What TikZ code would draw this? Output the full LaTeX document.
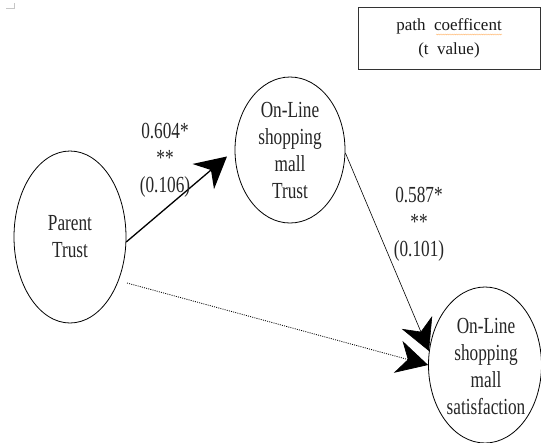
\documentclass[tikz,border=0pt]{standalone}
\usepackage{fontspec}
\setmainfont{Liberation Serif}
\newfontfamily\lblfont[FakeStretch=0.75]{Liberation Serif}
\usetikzlibrary{shapes.geometric,arrows.meta,decorations.pathmorphing}
\begin{document}
\begin{tikzpicture}[x=1pt,y=-1pt,
  ell/.style={ellipse, draw, line width=0.8pt, inner sep=0pt},
  lbl/.style={align=center, inner sep=0pt, text=black!85, font=\lblfont\fontsize{23}{27}\selectfont},
  bigtip/.style={-{Stealth[length=31pt,width=33pt,inset=10pt]}},
  legendbox/.style={draw=black!80, line width=1pt, minimum width=182pt, minimum height=62pt, align=center, inner sep=0pt, text=black!90, font=\fontsize{17}{24}\selectfont},
]
\useasboundingbox (0,0) rectangle (541,442);
\fill[white] (0,0) rectangle (541,442);
% corner mark
\draw[gray!45, line width=0.6pt] (6,8) -- (14,8) -- (14,3);
% legend
\node[legendbox] (legend) at (449,38) {path\ \ coefficent\\(t\ \ value)};
\draw[orange!55, line width=0.35pt, decorate, decoration={snake, amplitude=0.5pt, segment length=1.8pt}] (436,34.5) -- (502,34.5);
% ellipses
\node[ell, minimum width=112pt, minimum height=172pt] (parent) at (70,237) {};
\node[lbl] (parentt) at (parent.center) {Parent\\Trust};
\node[ell, minimum width=110pt, minimum height=146pt] (online) at (290,150) {};
\node[lbl] (onlinet) at (online.center) {On-Line\\shopping\\mall\\Trust};
\node[ell, minimum width=113pt, minimum height=156pt] (sat) at (485,365) {};
\node[lbl] (satt) at (486,366) {On-Line\\shopping\\mall\\satisfaction};
% connectors
\draw[bigtip, line width=1.3pt, shorten >=10pt] (parent.-5) -- (online.west);
\draw[bigtip, line width=0.6pt] (online.-3) -- (sat.166);
\coordinate (dstart) at (127,283);
\draw[bigtip, line width=0.8pt, dash pattern=on 1pt off 1.2pt] (dstart) -- (sat.west);
% coefficients
\node[lbl] (c1) at (165,160) {0.604*\\**\\(0.106)};
\node[lbl] (c2) at (419,224) {0.587*\\**\\(0.101)};
\end{tikzpicture}
\end{document}
